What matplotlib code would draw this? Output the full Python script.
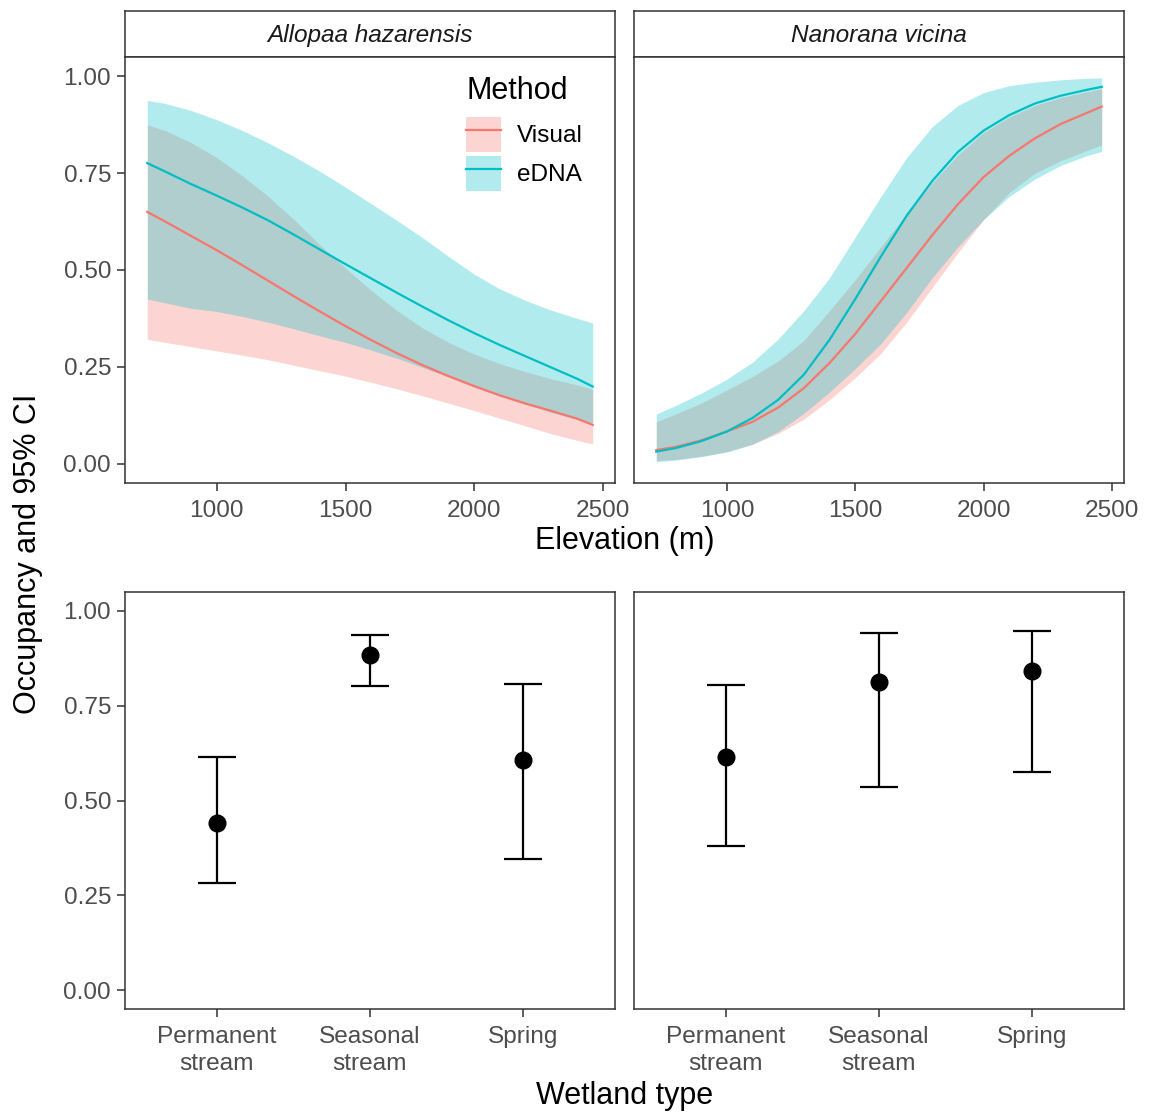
import matplotlib
matplotlib.use("Agg")
import matplotlib.pyplot as plt
from matplotlib.patches import Patch
from matplotlib.lines import Line2D
from matplotlib.legend_handler import HandlerTuple
import numpy as np

plt.rcParams['font.family'] = ['Liberation Sans', 'DejaVu Sans']

# ---------------- data ----------------
species = ["Allopaa hazarensis", "Nanorana vicina"]
methods = ["Visual", "eDNA"]

# Allopaa hazarensis (elevation curves)
elev_a = [730, 800, 900, 1000, 1100, 1200, 1300, 1400, 1500, 1600, 1700, 1800, 1900, 2000, 2100, 2200, 2300, 2400, 2460]
vis_mean_a = [0.650, 0.625, 0.588, 0.551, 0.512, 0.472, 0.432, 0.393, 0.355, 0.319, 0.285, 0.254, 0.226, 0.200, 0.176, 0.155, 0.136, 0.116, 0.100]
vis_low_a = [0.321, 0.313, 0.302, 0.291, 0.280, 0.268, 0.254, 0.240, 0.226, 0.210, 0.193, 0.175, 0.156, 0.137, 0.117, 0.097, 0.077, 0.060, 0.051]
vis_up_a = [0.875, 0.860, 0.829, 0.790, 0.743, 0.690, 0.630, 0.565, 0.505, 0.447, 0.395, 0.350, 0.313, 0.283, 0.258, 0.237, 0.219, 0.203, 0.192]
edna_mean_a = [0.776, 0.754, 0.722, 0.692, 0.661, 0.628, 0.591, 0.553, 0.515, 0.478, 0.441, 0.405, 0.370, 0.337, 0.306, 0.277, 0.248, 0.219, 0.199]
edna_low_a = [0.425, 0.415, 0.401, 0.393, 0.380, 0.365, 0.348, 0.330, 0.313, 0.293, 0.272, 0.248, 0.224, 0.200, 0.175, 0.153, 0.132, 0.114, 0.104]
edna_up_a = [0.938, 0.930, 0.912, 0.888, 0.860, 0.828, 0.793, 0.755, 0.714, 0.671, 0.628, 0.583, 0.535, 0.489, 0.451, 0.421, 0.396, 0.375, 0.363]

# Nanorana vicina (elevation curves)
elev_n = [725, 800, 900, 1000, 1100, 1200, 1300, 1400, 1500, 1600, 1700, 1800, 1900, 2000, 2100, 2200, 2300, 2400, 2460]
vis_mean_n = [0.035, 0.043, 0.060, 0.083, 0.108, 0.145, 0.195, 0.260, 0.335, 0.420, 0.505, 0.590, 0.670, 0.740, 0.795, 0.840, 0.877, 0.905, 0.922]
vis_low_n = [0.008, 0.011, 0.019, 0.031, 0.050, 0.078, 0.115, 0.165, 0.222, 0.285, 0.365, 0.455, 0.545, 0.630, 0.700, 0.750, 0.782, 0.808, 0.823]
vis_up_n = [0.108, 0.128, 0.156, 0.190, 0.225, 0.265, 0.318, 0.395, 0.475, 0.560, 0.645, 0.725, 0.797, 0.855, 0.895, 0.925, 0.945, 0.960, 0.968]
edna_mean_n = [0.031, 0.040, 0.058, 0.083, 0.118, 0.165, 0.230, 0.320, 0.425, 0.535, 0.640, 0.730, 0.805, 0.860, 0.900, 0.930, 0.950, 0.965, 0.973]
edna_low_n = [0.005, 0.009, 0.018, 0.030, 0.050, 0.083, 0.130, 0.185, 0.245, 0.310, 0.390, 0.480, 0.560, 0.630, 0.690, 0.735, 0.770, 0.795, 0.806]
edna_up_n = [0.128, 0.150, 0.182, 0.218, 0.262, 0.322, 0.395, 0.480, 0.585, 0.690, 0.790, 0.870, 0.925, 0.958, 0.976, 0.985, 0.991, 0.995, 0.996]

# Wetland type occupancy
wetland = ["Permanent\nstream", "Seasonal\nstream", "Spring"]
occ_a = [0.441, 0.885, 0.606]
low_a = [0.282, 0.802, 0.347]
up_a = [0.614, 0.937, 0.807]
occ_n = [0.614, 0.812, 0.841]
low_n = [0.379, 0.535, 0.574]
up_n = [0.804, 0.943, 0.948]

# ---------------- style ----------------
W, H = 1157, 1113
col_vis = "#F8766D"
col_edna = "#00BFC4"
border = "#333333"
tickcol = "#4D4D4D"
fs_tick = 17.6
fs_title = 22

fig = plt.figure(figsize=(W / 100, H / 100), dpi=100)


def px_axes(x0, y0, x1, y1):
    return fig.add_axes([x0 / W, 1 - y1 / H, (x1 - x0) / W, (y1 - y0) / H])


def style(ax, xpad=6):
    for s in ax.spines.values():
        s.set_color(border)
        s.set_linewidth(1.1)
    ax.tick_params(axis="both", direction="out", length=5.5, width=1.1, color=border,
                   labelsize=fs_tick, labelcolor=tickcol, pad=4.5)
    ax.tick_params(axis="x", pad=xpad)
    ax.set_yticks([0, 0.25, 0.5, 0.75, 1.0])
    ax.set_yticklabels(["0.00", "0.25", "0.50", "0.75", "1.00"])


panel_x = [(125, 615), (634, 1124)]
top_y = (57, 483)
strip_y = (11, 57)
bot_y = (592, 1009)

top_data = [
    (elev_a, vis_mean_a, vis_low_a, vis_up_a, edna_mean_a, edna_low_a, edna_up_a),
    (elev_n, vis_mean_n, vis_low_n, vis_up_n, edna_mean_n, edna_low_n, edna_up_n),
]
bot_data = [(occ_a, low_a, up_a), (occ_n, low_n, up_n)]

for i, (x0, x1) in enumerate(panel_x):
    # strip
    sax = px_axes(x0, strip_y[0], x1, strip_y[1])
    sax.set_xticks([]); sax.set_yticks([])
    for s in sax.spines.values():
        s.set_color(border); s.set_linewidth(1.1)
    sax.text(0.5, 0.47, species[i], transform=sax.transAxes, ha="center", va="center",
             fontsize=fs_tick, style="italic", color="#1A1A1A")

    # top panel
    ax = px_axes(x0, top_y[0], x1, top_y[1])
    elev, vm, vl, vu, em, el, eu = top_data[i]
    ax.fill_between(elev, vl, vu, color=col_vis, alpha=0.3, lw=0)
    ax.fill_between(elev, el, eu, color=col_edna, alpha=0.3, lw=0)
    ax.plot(elev, vm, color=col_vis, lw=1.6)
    ax.plot(elev, em, color=col_edna, lw=1.6)
    r = max(elev) - min(elev)
    ax.set_xlim(min(elev) - 0.05 * r, max(elev) + 0.05 * r)
    ax.set_ylim(-0.05, 1.05)
    ax.set_xticks([1000, 1500, 2000, 2500])
    style(ax, xpad=6.5)
    if i == 1:
        ax.tick_params(axis="y", left=False, labelleft=False)
    else:
        handles = [
            (Patch(facecolor=col_vis, alpha=0.3, lw=0), Line2D([], [], color=col_vis, lw=1.6)),
            (Patch(facecolor=col_edna, alpha=0.3, lw=0), Line2D([], [], color=col_edna, lw=1.6)),
        ]
        leg = ax.legend(handles, methods, handler_map={tuple: HandlerTuple(ndivide=1, pad=0)},
                        title="Method", loc="upper left", bbox_to_anchor=(0.696, 0.955),
                        frameon=False, fontsize=fs_tick, title_fontsize=fs_title,
                        handlelength=1.45, handleheight=1.8, handletextpad=0.65,
                        labelspacing=0.17, borderpad=0, borderaxespad=0, alignment="left")
        leg._legend_box.sep = 8

    # bottom panel
    bx = px_axes(x0, bot_y[0], x1, bot_y[1])
    occ, lo, up = bot_data[i]
    xpos = np.arange(1, len(wetland) + 1)
    yerr = [np.array(occ) - np.array(lo), np.array(up) - np.array(occ)]
    bx.errorbar(xpos, occ, yerr=yerr, fmt="o", color="black", ms=12, elinewidth=1.6,
                capsize=14, capthick=1.6)
    bx.set_xlim(0.4, 3.6)
    bx.set_ylim(-0.05, 1.05)
    bx.set_xticks(xpos)
    bx.set_xticklabels(wetland, linespacing=1.25)
    style(bx, xpad=7)
    if i == 1:
        bx.tick_params(axis="y", left=False, labelleft=False)

fig.text(625 / W, 1 - 541 / H, "Elevation (m)", ha="center", va="center", fontsize=fs_title)
fig.text(625 / W, 1 - 1096 / H, "Wetland type", ha="center", va="center", fontsize=fs_title)
fig.text(28 / W, 1 - 554 / H, "Occupancy and 95% CI", ha="center", va="center",
         rotation=90, fontsize=fs_title)

fig.savefig("out.png", dpi=100, facecolor="white")
